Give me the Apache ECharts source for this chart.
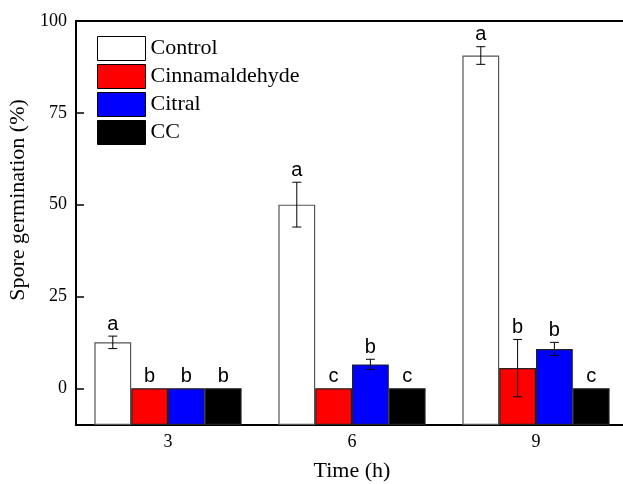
<!DOCTYPE html>
<html style="height: 100%">
<head>
	<meta charset="utf-8">
	<script src="https://cdn.jsdelivr.net/npm/echarts@6/dist/echarts.min.js"></script>
	<style>
		html, body { margin: 0; padding: 0; background: #fff; }
		#chart { width: 623px; height: 484px; }
	</style>
</head>
<body>
	<div id="chart"></div>
	<script>
		// 数据
		var times = ['3', '6', '9'];
		var names = ['Control', 'Cinnamaldehyde', 'Citral', 'CC'];
		var control = [12.5, 50, 90.6];
		var controlErr = [1.7, 6.1, 2.4];
		var cinnamaldehyde = [0, 0, 5.5];
		var cinnamaldehydeErr = [0, 0, 7.8];
		var citral = [0, 6.5, 10.7];
		var citralErr = [0, 1.4, 1.8];
		var cc = [0, 0, 0];
		var ccErr = [0, 0, 0];
		var controlLetters = ['a', 'a', 'a'];
		var cinnamaldehydeLetters = ['b', 'c', 'b'];
		var citralLetters = ['b', 'b', 'b'];
		var ccLetters = ['b', 'c', 'c'];
		var yTicks = [0, 25, 50, 75, 100];
		var yMin = -10;
		var yMax = 100;

		var values = [control, cinnamaldehyde, citral, cc];
		var errs = [controlErr, cinnamaldehydeErr, citralErr, ccErr];
		var letters = [controlLetters, cinnamaldehydeLetters, citralLetters, ccLetters];
		var fills = ['#ffffff', '#ff0000', '#0000ff', '#000000'];
		var borders = ['#555555', '#222222', '#222222', '#222222'];

		var serif = "'Liberation Serif', 'Times New Roman', serif";
		var sans = "'Liberation Sans', Arial, sans-serif";

		var series = [];
		names.forEach(function(name, i) {
			// transparent base so bars start at the bottom of the axis
			series.push({
				name: '_base' + i,
				type: 'bar',
				stack: 's' + i,
				stackStrategy: 'all',
				silent: true,
				barGap: '0%',
				barCategoryGap: '20%',
				itemStyle: { color: 'transparent' },
				data: times.map(function() { return yMin; })
			});
			series.push({
				name: name,
				type: 'bar',
				stack: 's' + i,
				stackStrategy: 'all',
				barGap: '0%',
				barCategoryGap: '20%',
				itemStyle: { color: fills[i], borderColor: borders[i], borderWidth: 1.2 },
				data: values[i].map(function(v) { return v - yMin; })
			});
		});

		var errData = [];
		values.forEach(function(arr, si) {
			arr.forEach(function(v, ci) {
				errData.push([ci, si, v, errs[si][ci], letters[si][ci]]);
			});
		});

		series.push({
			type: 'custom',
			z: 10,
			silent: true,
			clip: false,
			encode: { x: 0, y: 2 },
			data: errData,
			renderItem: function(params, api) {
				var ci = api.value(0), si = api.value(1), v = api.value(2), e = api.value(3);
				var letter = errData[params.dataIndex][4];
				var band = api.size([1, 0])[0];
				var bw = band * 0.8 / 4;
				var cx = api.coord([ci, v])[0] + (si - 1.5) * bw;
				var yTop = api.coord([ci, v + e])[1];
				var yBot = api.coord([ci, v - e])[1];
				var st = { stroke: '#000', lineWidth: 1 };
				var children = [];
				if (e > 0) {
					children.push({ type: 'line', shape: { x1: cx, y1: yTop, x2: cx, y2: yBot }, style: st });
					children.push({ type: 'line', shape: { x1: cx - 4.5, y1: yTop, x2: cx + 4.5, y2: yTop }, style: st });
					children.push({ type: 'line', shape: { x1: cx - 4.5, y1: yBot, x2: cx + 4.5, y2: yBot }, style: st });
				}
				children.push({
					type: 'text',
					style: {
						x: cx, y: yTop - 2, text: letter,
						textAlign: 'center', textVerticalAlign: 'bottom',
						font: '20px ' + sans, fill: '#000'
					}
				});
				return { type: 'group', children: children };
			}
		});

		var chart = echarts.init(document.getElementById('chart'));
		chart.setOption({
			animation: false,
			grid: {
				left: 76, top: 21, right: -5, bottom: 59,
				outerBoundsMode: 'none',
				containLabel: false,
				show: true, borderColor: '#000', borderWidth: 2, backgroundColor: 'transparent'
			},
			legend: {
				orient: 'vertical',
				left: 92, top: 31,
				itemWidth: 48, itemHeight: 24, itemGap: 3,
				icon: 'rect',
				textStyle: { fontFamily: serif, fontSize: 22, color: '#000' },
				data: names.map(function(n, i) {
					return { name: n, itemStyle: { color: fills[i], borderColor: '#000', borderWidth: 1 } };
				})
			},
			xAxis: {
				type: 'category',
				data: times,
				name: 'Time (h)',
				nameLocation: 'middle',
				nameGap: 35,
				nameTextStyle: { fontFamily: serif, fontSize: 22, color: '#000' },
				axisLine: { onZero: false, lineStyle: { color: '#000', width: 2 } },
				axisTick: { show: false },
				axisLabel: { fontFamily: serif, fontSize: 18, color: '#000', margin: 8 }
			},
			yAxis: {
				type: 'value',
				min: yMin,
				max: yMax,
				name: 'Spore germination (%)',
				nameLocation: 'middle',
				nameGap: 46,
				nameTextStyle: { fontFamily: serif, fontSize: 22, color: '#000', padding: [0, 0, 0, 46] },
				axisLine: { show: true, lineStyle: { color: '#000', width: 2 } },
				axisTick: { show: true, inside: true, length: 8, customValues: yTicks, lineStyle: { color: '#000', width: 1.5 } },
				axisLabel: { fontFamily: serif, fontSize: 18, color: '#000', margin: 9, customValues: yTicks },
				splitLine: { show: false }
			},
			series: series
		});
	</script>
</body>
</html>
